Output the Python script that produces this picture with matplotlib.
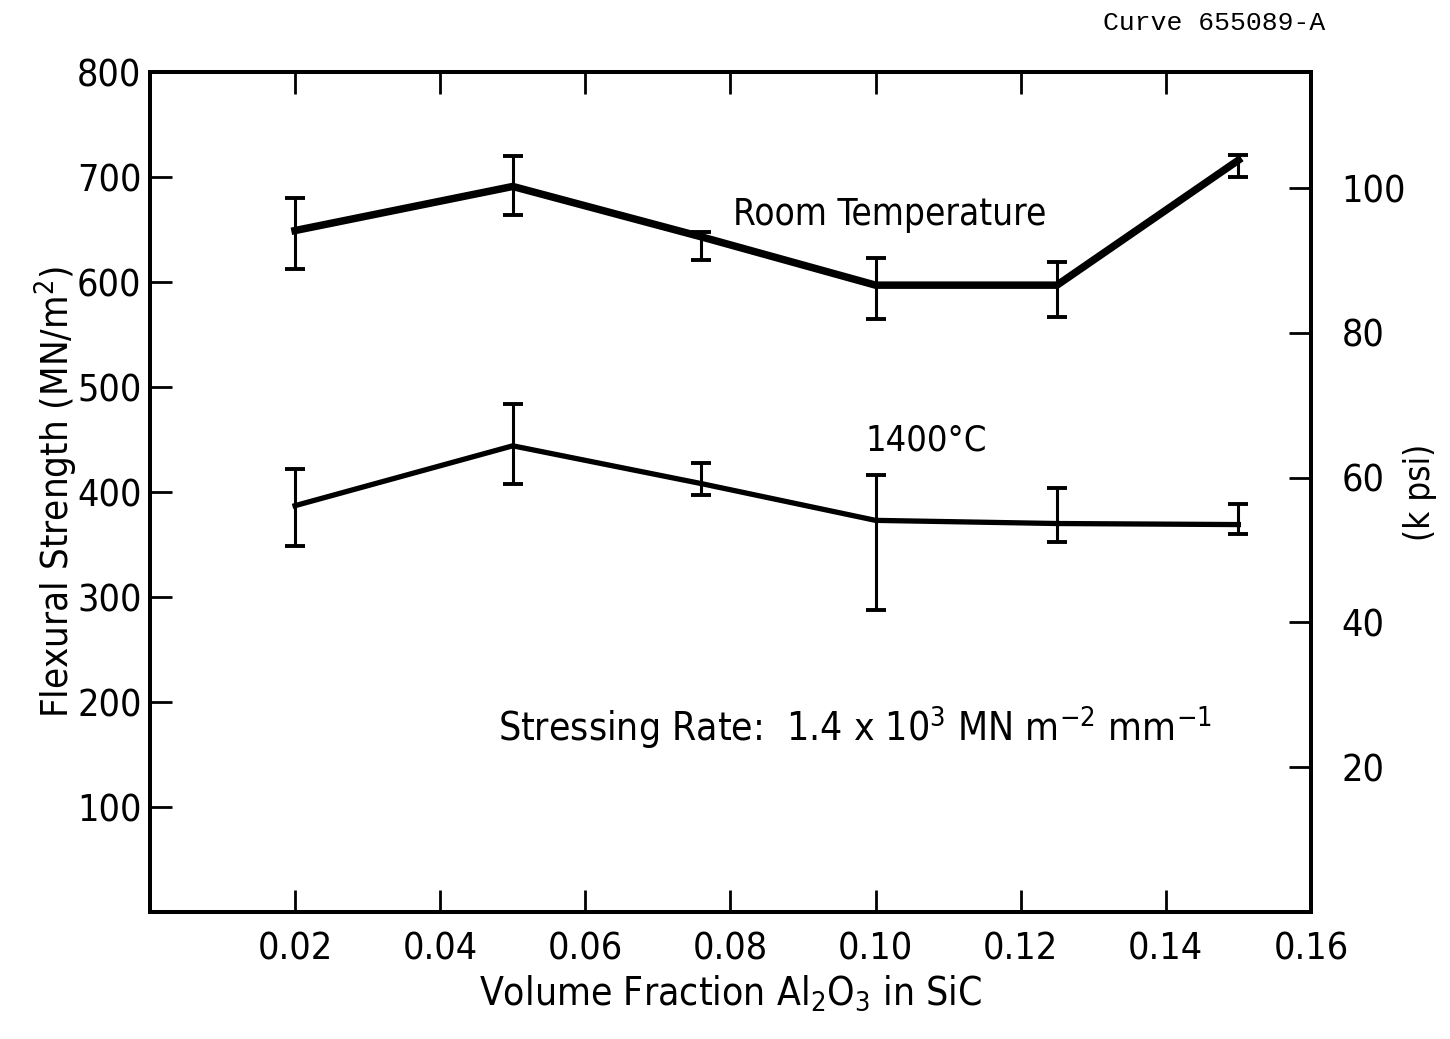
import numpy as np
import matplotlib
matplotlib.use("Agg")
import matplotlib.pyplot as plt
from matplotlib import font_manager

# pick a narrow sans face if one is installed
narrow = None
for f in font_manager.fontManager.ttflist:
    cond = f.stretch in ('condensed', 'semi-condensed', 'extra-condensed') or \
        'Narrow' in f.name or 'Condensed' in f.name
    if cond and f.style == 'normal' and f.weight in (400, 'normal', 'regular') and 'Mono' not in f.name:
        narrow = f
        break

if narrow is not None:
    plt.rcParams['font.family'] = [narrow.name, 'DejaVu Sans']
    plt.rcParams['font.stretch'] = narrow.stretch
    font_name = narrow.name
else:
    plt.rcParams['font.family'] = ['Roboto', 'DejaVu Sans']
    font_name = 'Roboto'
plt.rcParams['mathtext.fontset'] = 'custom'
plt.rcParams['mathtext.rm'] = font_name

# volume fraction of Al2O3
frac = [0.02, 0.05, 0.076, 0.10, 0.125, 0.15]

# room temperature strength, MN/m^2
rt_mean = [649, 691, 643, 597, 597, 716]
rt_hi = [680, 720, 648, 623, 619, 721]
rt_lo = [612, 664, 621, 565, 567, 700]

# 1400 C strength, MN/m^2
ht_mean = [387, 444, 408, 373, 370, 369]
ht_hi = [422, 484, 428, 416, 404, 389]
ht_lo = [349, 408, 397, 288, 352, 360]

x_ticks = [0.02, 0.04, 0.06, 0.08, 0.10, 0.12, 0.14, 0.16]
x_labels = ["0.02", "0.04", "0.06", "0.08", "0.10", "0.12", "0.14", "0.16"]
y_ticks = [100, 200, 300, 400, 500, 600, 700, 800]
kpsi_ticks = [20, 40, 60, 80, 100]
MN_PER_KPSI = 6.895

fig = plt.figure(figsize=(14.5, 10.39), dpi=100)
ax = fig.add_axes([0.1034, 0.1222, 0.8007, 0.8085])


def draw(mean, lo, hi, lw):
    mean = np.array(mean)
    err = [mean - np.array(lo), np.array(hi) - mean]
    ax.plot(frac, mean, color='black', lw=lw, solid_joinstyle='miter', zorder=3)
    ax.errorbar(frac, mean, yerr=err, fmt='none', ecolor='black',
                elinewidth=2.2, capsize=7, capthick=2.8, zorder=2)


draw(rt_mean, rt_lo, rt_hi, 5.4)
draw(ht_mean, ht_lo, ht_hi, 3.8)

ax.set_xlim(0, 0.16)
ax.set_ylim(0, 800)
ax.set_xticks(x_ticks)
ax.set_xticklabels(x_labels)
ax.set_yticks(y_ticks)
ax.tick_params(axis='both', direction='in', length=16, width=2, labelsize=27)
ax.tick_params(axis='x', top=True, pad=14)
ax.tick_params(axis='y', pad=6)
for s in ax.spines.values():
    s.set_linewidth(2.8)

ax.set_xlabel(r"Volume Fraction Al$\mathregular{_2}$O$\mathregular{_3}$ in SiC",
              fontsize=28, labelpad=4)
ax.set_ylabel(r"Flexural Strength (MN/m$\mathregular{^2}$)", fontsize=27.5, labelpad=-2)

# kpsi scale on the right
ax2 = ax.twinx()
ax2.set_ylim(0, 800 / MN_PER_KPSI)
ax2.set_yticks(kpsi_ticks)
ax2.tick_params(axis='y', direction='in', length=16, width=2, labelsize=27, pad=22)
ax2.set_ylabel("(k psi)", fontsize=25, labelpad=-2)
for s in ax2.spines.values():
    s.set_linewidth(2.8)

ax.text(0.0803, 664, "Room Temperature", fontsize=26.5, va='center', ha='left')
ax.text(0.0986, 449, "1400°C", fontsize=26, va='center', ha='left')
ax.text(0.048, 176,
        r"Stressing Rate:  1.4 x 10$\mathregular{^3}$ MN m$\mathregular{^{-2}}$ mm$\mathregular{^{-1}}$",
        fontsize=28, va='center', ha='left')

fig.text(0.914, 0.978, "Curve 655089-A", family='Liberation Mono', fontsize=19,
         ha='right', va='center')

fig.savefig("out.png", dpi=100)
